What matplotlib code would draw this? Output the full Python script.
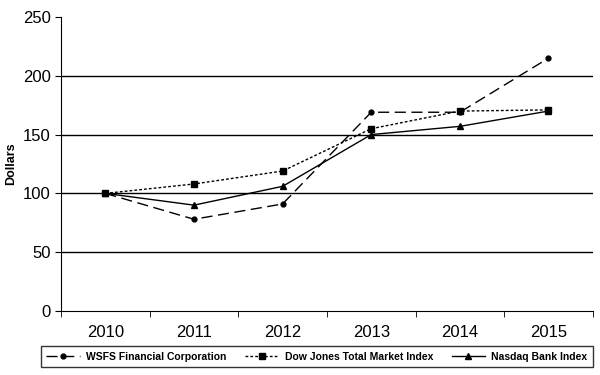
import matplotlib
matplotlib.use("Agg")
import matplotlib.pyplot as plt
import numpy as np

years = ["2010", "2011", "2012", "2013", "2014", "2015"]
wsfs = [100, 78, 91, 169, 169, 215]
dow_jones = [100, 108, 119, 155, 170, 171]
nasdaq_bank = [100, 90, 106, 150, 157, 170]

plt.rcParams["font.family"] = ["Liberation Sans", "DejaVu Sans"]

fig = plt.figure(figsize=(6, 3.75), dpi=100)
ax = fig.add_axes([0.1017, 0.1707, 0.8863, 0.784])

x = np.arange(len(years))
ax.plot(x, wsfs, color="black", lw=1, linestyle=(0, (8, 4)), marker="o", ms=3.5,
        label="WSFS Financial Corporation")
ax.plot(x, dow_jones, color="black", lw=1, linestyle=(0, (2, 1.5)), marker="s", ms=4,
        label="Dow Jones Total Market Index")
ax.plot(x, nasdaq_bank, color="black", lw=1, linestyle="-", marker="^", ms=4,
        label="Nasdaq Bank Index")

ax.set_xlim(-0.5, len(years) - 0.5)
ax.set_ylim(0, 250)
ax.set_yticks(range(0, 251, 50))
for v in range(50, 201, 50):
    ax.axhline(v, color="black", lw=1, zorder=0)

ax.set_xticks(x)
ax.set_xticklabels(years, fontsize=12)
ax.set_xticks(np.arange(-0.5, len(years), 1), minor=True)
ax.tick_params(axis="x", which="major", length=0, pad=10)
ax.tick_params(axis="x", which="minor", length=4, direction="out", color="black")
ax.tick_params(axis="y", labelsize=12, length=4, direction="out")

for s in ("top", "right"):
    ax.spines[s].set_visible(False)
ax.spines["left"].set_color("black")
ax.spines["bottom"].set_color("black")

ax.set_ylabel("Dollars", fontsize=9, fontweight="bold", labelpad=4)

leg = fig.legend(loc="center", bbox_to_anchor=(0.528, 0.049), ncol=3,
                 prop={"weight": "bold", "size": 7.5}, frameon=True, fancybox=False,
                 edgecolor="black", handlelength=3.2, handletextpad=0.6,
                 columnspacing=1.8, borderpad=0.5)
leg.get_frame().set_linewidth(1)

fig.savefig("out.png", dpi=100)
